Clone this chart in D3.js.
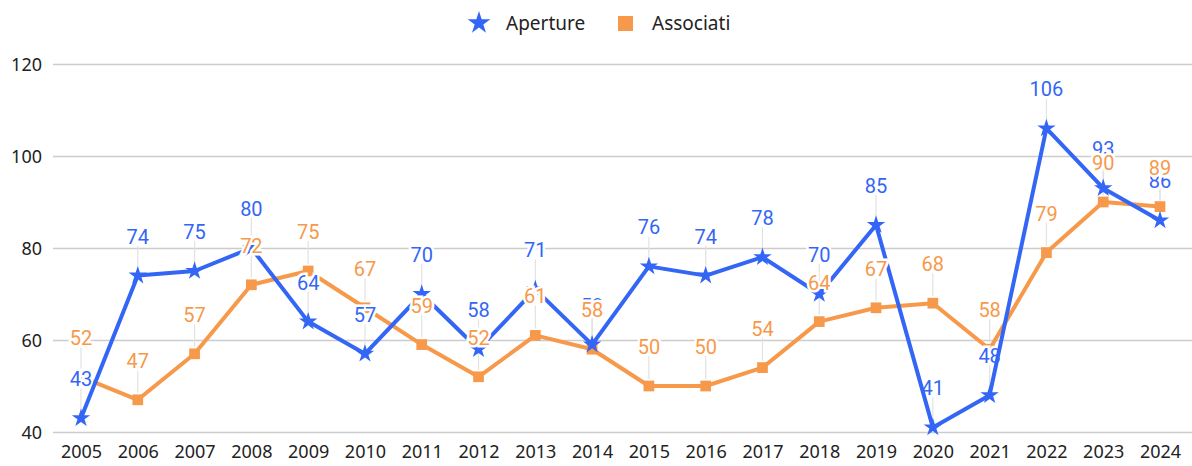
<!DOCTYPE html>
<html>
<head>
<meta charset="utf-8">
<script src="https://cdn.jsdelivr.net/npm/d3@7"></script>
<style>
  body { margin: 0; background: #fff; }
  svg { display: block; }
</style>
</head>
<body>
<script>
var years = ["2005","2006","2007","2008","2009","2010","2011","2012","2013","2014",
             "2015","2016","2017","2018","2019","2020","2021","2022","2023","2024"];
var aperture  = [43,74,75,80,64,57,70,58,71,59,76,74,78,70,85,41,48,106,93,86];
var associati = [52,47,57,72,75,67,59,52,61,58,50,50,54,64,67,68,58,79,90,89];
var yTicks = [40,60,80,100,120];

var blue = "#3466f6", orange = "#f7994a";
var width = 1192, height = 466;

var svg = d3.select("body").append("svg")
    .attr("width", width).attr("height", height);

var x = d3.scalePoint().domain(years).range([81, 1160]);
var y = d3.scaleLinear().domain([40, 120]).range([432, 64]);

// grid
var yAxis = d3.axisLeft(y).tickValues(yTicks).tickSize(-(width - 53)).tickPadding(11);
svg.append("g")
    .attr("transform", "translate(53,0)")
    .call(yAxis)
    .call(function (g) {
        g.select(".domain").remove();
        g.selectAll(".tick line").attr("stroke", "#cccccc").attr("stroke-width", 1.5);
        g.selectAll(".tick text").attr("fill", "#222").attr("font-size", 18)
            .attr("font-family", "Noto Sans").attr("dy", "0.35em");
    });

var xAxis = d3.axisBottom(x).tickSize(0).tickPadding(13);
svg.append("g")
    .attr("transform", "translate(0,432)")
    .call(xAxis)
    .call(function (g) {
        g.select(".domain").remove();
        g.selectAll(".tick text").attr("fill", "#222").attr("font-size", 18)
            .attr("font-family", "Noto Sans");
    });

var series = [
    {name: "Aperture", values: aperture, color: blue, shape: d3.symbolStar, size: 105},
    {name: "Associati", values: associati, color: orange, shape: d3.symbolSquare, size: 115}
];

// leader lines for data labels
series.forEach(function (s) {
    svg.append("g").selectAll("line")
        .data(s.values)
        .enter().append("line")
        .attr("x1", function (d, i) { return x(years[i]); })
        .attr("x2", function (d, i) { return x(years[i]); })
        .attr("y1", function (d) { return y(d) - 30; })
        .attr("y2", function (d) { return y(d) - 7; })
        .attr("stroke", "#e2e2e2").attr("stroke-width", 1.2);
});

var line = d3.line()
    .x(function (d, i) { return x(years[i]); })
    .y(function (d) { return y(d); });

function drawSeries(s) {
    var g = svg.append("g");
    g.append("path")
        .attr("d", line(s.values))
        .attr("fill", "none")
        .attr("stroke", s.color)
        .attr("stroke-width", 4)
        .attr("stroke-linejoin", "round");
    g.selectAll("path.pt")
        .data(s.values)
        .enter().append("path")
        .attr("class", "pt")
        .attr("transform", function (d, i) { return "translate(" + x(years[i]) + "," + y(d) + ")"; })
        .attr("d", d3.symbol().type(s.shape).size(s.size))
        .attr("fill", s.color);
}

function drawLabels(s) {
    svg.append("g").selectAll("text")
        .data(s.values)
        .enter().append("text")
        .attr("x", function (d, i) { return x(years[i]); })
        .attr("y", function (d) { return y(d) - 32; })
        .attr("text-anchor", "middle")
        .attr("font-family", "Roboto")
        .attr("font-size", 20)
        .attr("fill", s.color)
        .attr("stroke", "#fff").attr("stroke-width", 5)
        .attr("paint-order", "stroke")
        .text(function (d) { return d; });
}

drawSeries(series[1]);
drawLabels(series[0]);
drawSeries(series[0]);
drawLabels(series[1]);

// legend
var legend = svg.append("g").attr("font-family", "Noto Sans").attr("font-size", 19).attr("fill", "#222");
legend.append("path")
    .attr("transform", "translate(479,23)")
    .attr("d", d3.symbol().type(d3.symbolStar).size(160))
    .attr("fill", blue);
legend.append("text").attr("x", 506).attr("y", 30).text("Aperture");
legend.append("rect")
    .attr("x", 618).attr("y", 16).attr("width", 15).attr("height", 15)
    .attr("fill", orange);
legend.append("text").attr("x", 652).attr("y", 30).text("Associati");
</script>
</body>
</html>
